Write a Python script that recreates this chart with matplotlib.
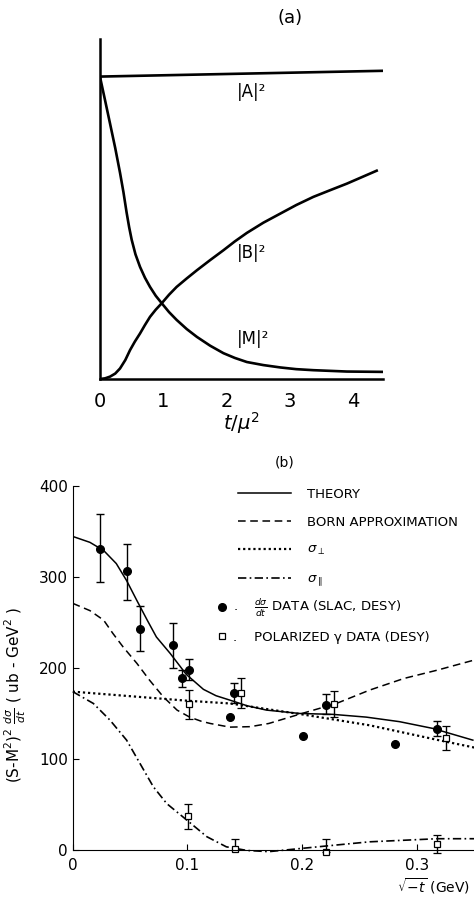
import matplotlib.pyplot as plt
from matplotlib.lines import Line2D

plt.rcParams['font.family'] = 'DejaVu Sans'
plt.rcParams['mathtext.fontset'] = 'dejavusans'

# panel (a): amplitudes vs t/mu^2
t_A = [0, 4.47]
A_sq = [0.89, 0.907]
t_M = [0, 0.08, 0.158, 0.24, 0.316, 0.37, 0.42, 0.46, 0.5, 0.56, 0.632, 0.71, 0.79, 0.88, 0.975,
       1.09, 1.21, 1.37, 1.53, 1.74, 1.95, 2.13, 2.32, 2.58, 2.85, 3.1, 3.37, 3.9, 4.47]
M_sq = [0.889, 0.82, 0.752, 0.68, 0.607, 0.55, 0.49, 0.447, 0.41, 0.367, 0.33, 0.298, 0.271,
        0.245, 0.223, 0.197, 0.174, 0.147, 0.124, 0.098, 0.076, 0.062, 0.05, 0.041, 0.034, 0.029,
        0.026, 0.022, 0.021]
t_B = [0, 0.08, 0.158, 0.24, 0.316, 0.4, 0.474, 0.55, 0.632, 0.71, 0.79, 0.88, 0.975, 1.09, 1.21,
       1.37, 1.53, 1.74, 1.95, 2.13, 2.32, 2.58, 2.85, 3.1, 3.37, 3.64, 3.9, 4.37]
B_sq = [0.0, 0.002, 0.007, 0.016, 0.031, 0.056, 0.085, 0.11, 0.134, 0.159, 0.183, 0.204, 0.223,
        0.248, 0.271, 0.296, 0.32, 0.35, 0.379, 0.405, 0.43, 0.46, 0.487, 0.512, 0.536, 0.556,
        0.575, 0.613]

# panel (b): curves
x_th = [0, 0.015, 0.027, 0.038, 0.047, 0.056, 0.065, 0.073, 0.085, 0.099, 0.114, 0.125, 0.137,
        0.152, 0.169, 0.198, 0.227, 0.256, 0.285, 0.314, 0.349]
theory = [344.5, 338, 329, 314.7, 296, 274, 252.5, 234, 216, 193, 176.5, 169.5, 164.7, 158.5,
          153.7, 150, 149, 146, 141, 133.6, 120.7]
x_born = [0, 0.015, 0.027, 0.035, 0.044, 0.056, 0.067, 0.079, 0.091, 0.102, 0.112, 0.12, 0.137,
          0.155, 0.171, 0.2, 0.23, 0.259, 0.289, 0.318, 0.354]
born = [271, 263, 252.5, 238, 223, 205, 186.6, 168.3, 153.7, 146, 141.5, 139, 135, 135.5, 139,
        150, 161, 175.7, 188.5, 197.6, 210]
x_perp = [0, 0.05, 0.1, 0.137, 0.2, 0.259, 0.318, 0.354]
sig_perp = [174, 169, 164, 161, 149, 137, 121, 111.6]
x_par = [0, 0.018, 0.0325, 0.047, 0.0587, 0.0703, 0.082, 0.0994, 0.117, 0.134, 0.152, 0.171,
         0.2, 0.23, 0.259, 0.318, 0.354]
sig_par = [174, 161, 142.7, 120.7, 95, 69.5, 51, 33, 14.6, 3.5, -0.5, -1.8, 1.8, 5.5, 9, 12.4,
           12.4]

# d sigma/dt data (filled circles)
x_dat = [0.0235, 0.047, 0.0585, 0.0876, 0.095, 0.1015, 0.141, 0.137, 0.201, 0.221, 0.281, 0.318]
y_dat = [330.5, 306, 243, 225, 189, 198, 173, 146, 125, 159, 116, 133]
err_lo = [36, 31.5, 24.5, 25.5, 10, 11.4, 12, 0, 0, 10, 0, 7.5]
err_hi = [38.5, 30, 25, 24, 9, 12, 11, 0, 0, 12, 0, 8.6]

# polarized gamma data (open squares)
x_pol = [0.1015, 0.1468, 0.2276, 0.3256, 0.1009, 0.1418, 0.221, 0.318]
y_pol = [160, 172, 160, 123, 37, 1, -2.5, 7]
perr_lo = [16.5, 16.5, 13.6, 13, 14, 1, 0, 10]
perr_hi = [16, 16.5, 14.6, 13, 14, 11.4, 14.2, 10]

fig = plt.figure(figsize=(4.74, 8.99), dpi=100)

# ---------- (a)
axa = fig.add_axes([0.211, 0.5784, 0.597, 0.378])
axa.plot(t_A, A_sq, color='black', lw=1.9)
axa.plot(t_M, M_sq, color='black', lw=1.9)
axa.plot(t_B, B_sq, color='black', lw=1.9)
axa.set_xlim(0, 4.47)
axa.set_ylim(0, 1)
axa.spines['top'].set_visible(False)
axa.spines['right'].set_visible(False)
axa.spines['left'].set_linewidth(1.8)
axa.spines['bottom'].set_linewidth(1.8)
axa.set_yticks([])
axa.set_xticks([0, 1, 2, 3, 4])
axa.tick_params(axis='x', length=0, pad=9, labelsize=14)
axa.set_xlabel(r'$t/\mu^2$', fontsize=14, labelpad=0)
axa.text(2.16, 0.845, '|A|²', fontsize=12, va='center', ha='left')
axa.text(2.16, 0.37, '|B|²', fontsize=12, va='center', ha='left')
axa.text(2.16, 0.118, '|M|²', fontsize=12, va='center', ha='left')
fig.text(290 / 474, 1 - 18 / 899, '(a)', fontsize=13, ha='center', va='center')

# ---------- (b)
axb = fig.add_axes([0.1534, 0.0545, 0.8466, 0.405])
lth, = axb.plot(x_th, theory, color='black', lw=1.1)
lbo, = axb.plot(x_born, born, color='black', lw=1.1, dashes=(5, 3))
lpe, = axb.plot(x_perp, sig_perp, color='black', lw=1.6, ls=(0, (1, 1.3)))
lpa, = axb.plot(x_par, sig_par, color='black', lw=1.2, ls=(0, (5, 2, 1, 2)), clip_on=False)
axb.errorbar(x_dat, y_dat, yerr=[err_lo, err_hi], fmt='o', color='black', ms=5.5,
             elinewidth=1, capsize=3, clip_on=False)
axb.errorbar(x_pol, y_pol, yerr=[perr_lo, perr_hi], fmt='s', color='black', mfc='white',
             ms=5, mew=0.9, elinewidth=1, capsize=3, clip_on=False)
axb.set_xlim(0, 0.35)
axb.set_ylim(0, 400)
axb.spines['top'].set_visible(False)
axb.spines['right'].set_visible(False)
axb.set_xticks([0, 0.1, 0.2, 0.3])
axb.set_xticklabels(['0', '0.1', '0.2', '0.3'])
axb.set_yticks([0, 100, 200, 300, 400])
axb.tick_params(direction='in', length=4, labelsize=11)
axb.tick_params(axis='x', pad=6)
axb.set_ylabel(r'(S-M$^2$)$^2$ $\frac{d\sigma}{dt}$ ( ub - GeV$^2$ )', fontsize=11)
axb.yaxis.set_label_coords(-0.111, 0.425)
axb.text(0.99, -0.1, r'$\sqrt{-t}$ (GeV)', transform=axb.transAxes, ha='right', va='center',
         fontsize=10)
fig.text(285 / 474, 1 - 462 / 899, '(b)', fontsize=10, ha='center', va='center')

leg1 = axb.legend([lth, lbo, lpe, lpa],
                  ['THEORY', 'BORN APPROXIMATION', r'$\sigma_{\perp}$', r'$\sigma_{\parallel}$'],
                  loc='upper left', bbox_to_anchor=(0.412, 0.995), frameon=False, fontsize=9.5,
                  handlelength=4.0, handletextpad=1.2, labelspacing=1.12, borderpad=0,
                  borderaxespad=0)
axb.add_artist(leg1)
h_dat = Line2D([], [], marker='o', color='black', ls='none', ms=5.5)
h_pol = Line2D([], [], marker='s', color='black', mfc='white', ls='none', ms=5, mew=0.9)
axb.legend([h_dat, h_pol],
           [r'.    $\frac{d\sigma}{dt}$ DATA (SLAC, DESY)', '.    POLARIZED γ DATA (DESY)'],
           loc='upper left', bbox_to_anchor=(0.36, 0.695), frameon=False, fontsize=9.5,
           handlelength=0.8, handletextpad=0.4, labelspacing=0.9, borderpad=0, borderaxespad=0)

fig.savefig('out.png', dpi=100)
